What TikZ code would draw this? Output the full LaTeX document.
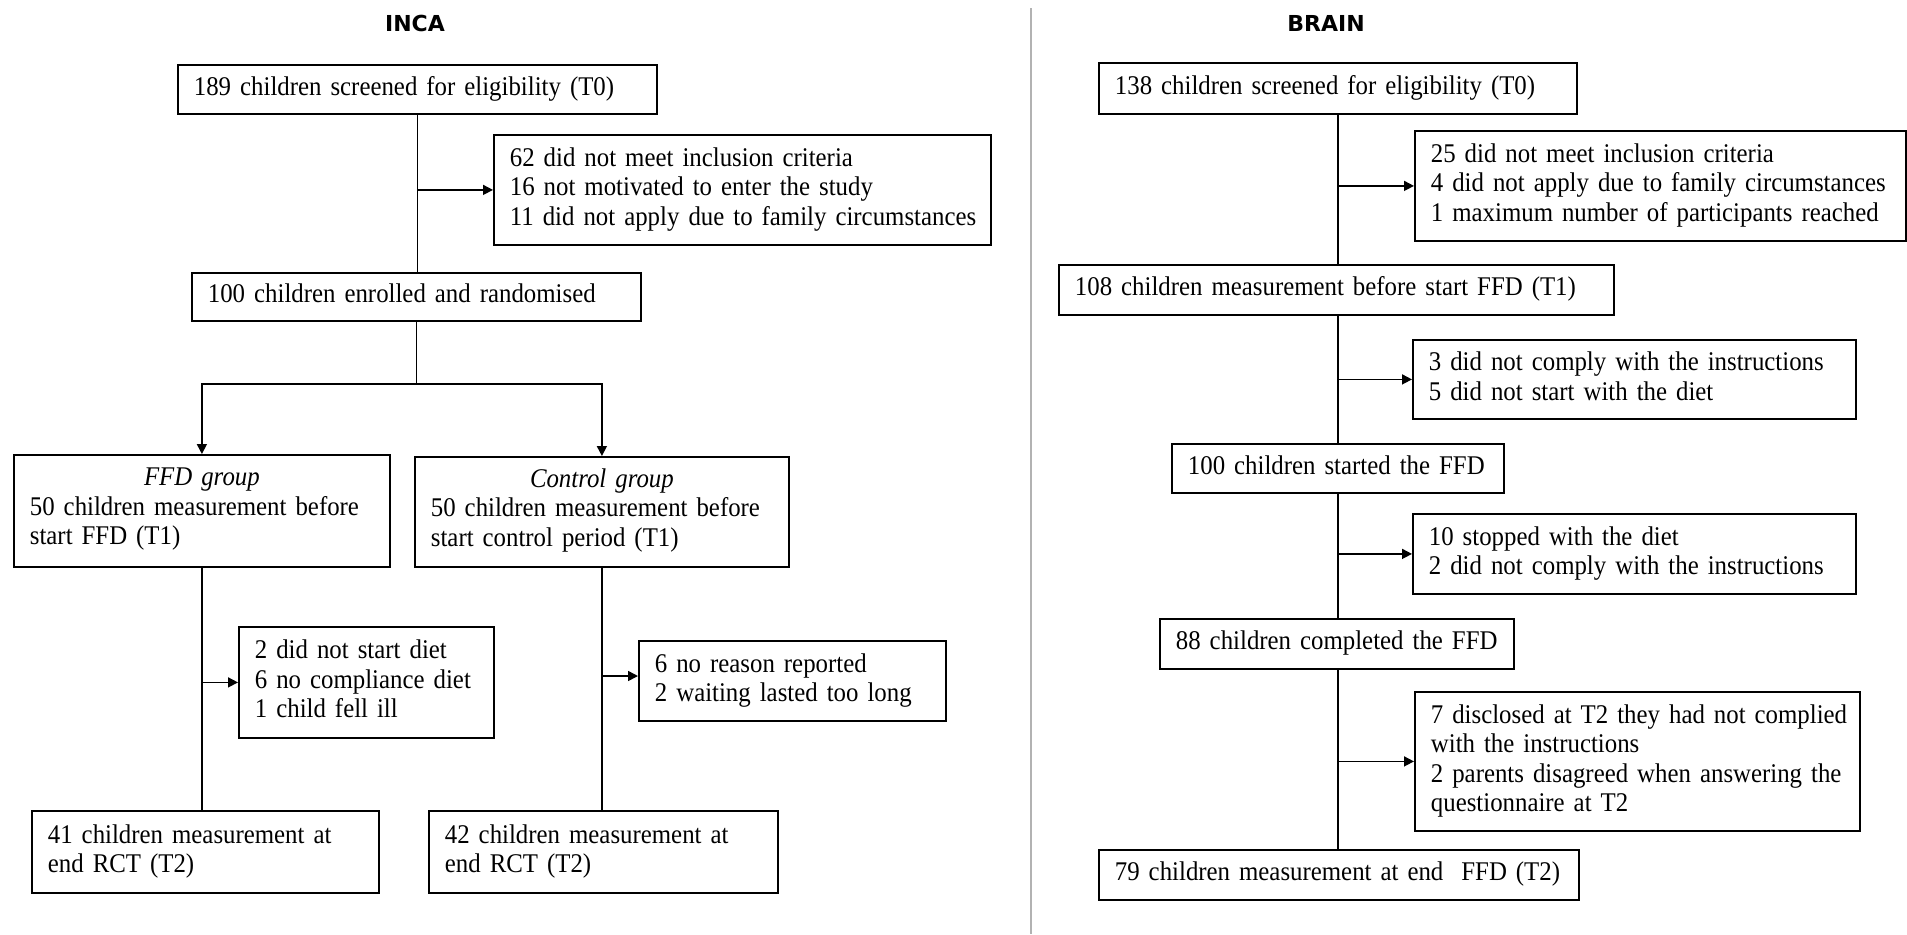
\documentclass[tikz,border=0pt]{standalone}
\usepackage{fontspec}
\setmainfont{Liberation Serif}[FakeStretch=0.92]
\newfontfamily\titlefont{DejaVu Sans}
\usetikzlibrary{arrows.meta}
\newcommand\mkbox[6]{\node[bx, anchor=north west,
  minimum width={(#4-#2)*0.5pt}, minimum height={(#5-#3)*0.5pt},
  text width={(#4-#2)*0.5pt-16pt}] (#1) at (#2,#3)
  {\begin{tabular}[t]{@{}l@{}}#6\end{tabular}};}
\newcommand\mkgbox[7]{\node[bx, anchor=north west,
  minimum width={(#4-#2)*0.5pt}, minimum height={(#5-#3)*0.5pt},
  text width={(#4-#2)*0.5pt-16pt}] (#1) at (#2,#3)
  {\makebox[\linewidth]{\itshape #6}\par\begin{tabular}[t]{@{}l@{}}#7\end{tabular}};}
\begin{document}
\begin{tikzpicture}[x=0.5pt,y=-0.5pt,
  bx/.style={draw, line width=0.9pt, inner xsep=8pt, inner ysep=0pt, align=left,
    font=\fontsize{13.5}{14.75}\selectfont},
  ttl/.style={font=\titlefont\bfseries\fontsize{11}{13}\selectfont, inner sep=0pt},
  ln/.style={line width=0.8pt},
  arr/.style={line width=0.8pt, -{Triangle[length=5pt,width=5pt]}}
]
\useasboundingbox (0,0) rectangle (1907,934);
\fill[white] (0,0) rectangle (1907,934);

% divider
\coordinate (divtop) at (1031,8);
\coordinate (divbot) at (1031,934);
\draw[line width=0.8pt, gray!60] (divtop) -- (divbot);

% titles
\node[ttl] (inca) at (415,23) {INCA};
\node[ttl] (brain) at (1326,23) {BRAIN};

% ---------- INCA ----------
\mkbox{b189}{177}{64}{656}{113}{189 children screened for eligibility (T0)}
\mkbox{b62}{493}{134}{990}{244}{62 did not meet inclusion criteria\\16 not motivated to enter the study\\11 did not apply due to family circumstances}
\mkbox{b100}{191}{272}{640}{320}{100 children enrolled and randomised}
\mkgbox{ffd}{13}{454}{389}{566}{FFD group}{50 children measurement before\\start FFD (T1)}
\mkgbox{ctl}{414}{456}{788}{566}{Control group}{50 children measurement before\\start control period (T1)}
\mkbox{b2}{238}{626}{493}{737}{2 did not start diet\\6 no compliance diet\\1 child fell ill}
\mkbox{b6}{638}{640}{945}{720}{6 no reason reported\\2 waiting lasted too long}
\mkbox{b41}{31}{810}{378}{892}{41 children measurement at\\end RCT (T2)}
\mkbox{b42}{428}{810}{777}{892}{42 children measurement at\\end RCT (T2)}

\coordinate (split) at (416,384);
\draw[ln] (b189.south) -- (b189.south |- b100.north);
\draw[arr] (b62.west -| b189.south) -- (b62.west);
\draw[ln] (b100.south) -- (b100.south |- split);
\draw[arr] (b100.south |- split) -| (ffd.north);
\draw[arr] (b100.south |- split) -| (ctl.north);
\draw[ln] (ffd.south) -- (ffd.south |- b41.north);
\draw[arr] (b2.west -| ffd.south) -- (b2.west);
\draw[ln] (ctl.south) -- (ctl.south |- b42.north);
\draw[arr] (ctl.south |- 0,676) -- (b6.west |- 0,676);

% ---------- BRAIN ----------
\mkbox{b138}{1098}{62}{1576}{113}{138 children screened for eligibility (T0)}
\mkbox{b25}{1414}{130}{1905}{240}{25 did not meet inclusion criteria\\4 did not apply due to family circumstances\\1 maximum number of participants reached}
\mkbox{b108}{1058}{264}{1613}{314}{108 children measurement before start FFD (T1)}
\mkbox{b3}{1412}{339}{1855}{418}{3 did not comply with the instructions\\5 did not start with the diet}
\mkbox{b100b}{1171}{443}{1503}{492}{100 children started the FFD}
\mkbox{b10}{1412}{513}{1855}{593}{10 stopped with the diet\\2 did not comply with the instructions}
\mkbox{b88}{1159}{618}{1513}{668}{88 children completed the FFD}
\mkbox{b7}{1414}{691}{1859}{830}{7 disclosed at T2 they had not complied\\with the instructions\\2 parents disagreed when answering the\\questionnaire at T2}
\mkbox{b79}{1098}{849}{1578}{899}{79 children measurement at end\ \ FFD (T2)}

\draw[ln] (b138.south) -- (b138.south |- b108.north);
\draw[arr] (b25.west -| b138.south) -- (b25.west);
\draw[ln] (b138.south |- b108.south) -- (b138.south |- b100b.north);
\draw[arr] (b3.west -| b138.south) -- (b3.west);
\draw[ln] (b138.south |- b100b.south) -- (b138.south |- b88.north);
\draw[arr] (b10.west -| b138.south) -- (b10.west);
\draw[ln] (b138.south |- b88.south) -- (b138.south |- b79.north);
\draw[arr] (b7.west -| b138.south) -- (b7.west);
\end{tikzpicture}
\end{document}
